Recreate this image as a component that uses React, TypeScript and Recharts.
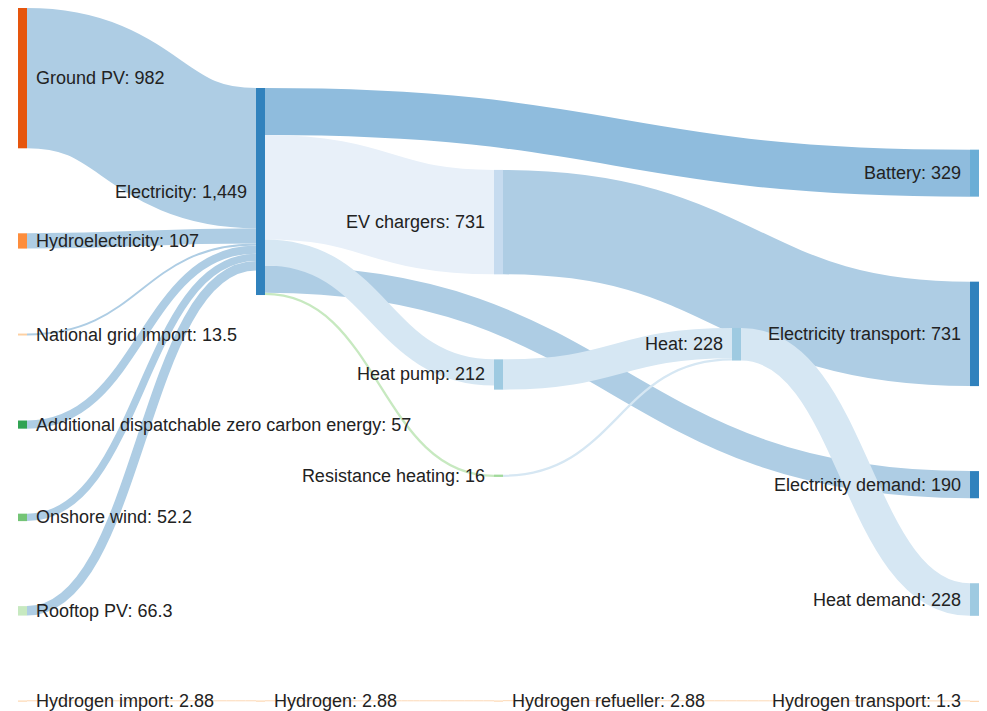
import React from 'react';
import { Sankey } from 'recharts';

const nodeNames = [
  'Ground PV',
  'Hydroelectricity',
  'National grid import',
  'Additional dispatchable zero carbon energy',
  'Onshore wind',
  'Rooftop PV',
  'Hydrogen import',
  'Electricity',
  'Hydrogen',
  'Battery',
  'EV chargers',
  'Heat pump',
  'Resistance heating',
  'Hydrogen refueller',
  'Electricity transport',
  'Electricity demand',
  'Heat',
  'Heat demand',
  'Hydrogen transport',
];

const linkSource = [0, 1, 2, 3, 4, 5, 6, 7, 7, 7, 7, 7, 10, 11, 12, 16, 8, 13];
const linkTarget = [7, 7, 7, 7, 7, 7, 8, 9, 10, 15, 11, 12, 14, 16, 16, 17, 13, 18];
const linkValue = [982, 107, 13.5, 57, 52.2, 66.3, 2.88, 329, 731, 190, 183, 16, 731, 212, 16, 228, 2.88, 1.3];

const NODE_COLORS: Record<string, string> = {
  'Ground PV': '#e6550d',
  Hydroelectricity: '#fd8d3c',
  'National grid import': '#fdd0a2',
  'Additional dispatchable zero carbon energy': '#31a354',
  'Onshore wind': '#74c476',
  'Rooftop PV': '#c7e9c0',
  'Hydrogen import': '#fdd0a2',
  Electricity: '#3182bd',
  Hydrogen: '#fdd0a2',
  Battery: '#6baed6',
  'EV chargers': '#c6dbef',
  'Heat pump': '#9ecae1',
  'Resistance heating': '#a1d99b',
  'Hydrogen refueller': '#fdd0a2',
  'Electricity transport': '#3182bd',
  'Electricity demand': '#3182bd',
  Heat: '#9ecae1',
  'Heat demand': '#9ecae1',
  'Hydrogen transport': '#fdd0a2',
};

const LINK_COLORS = [
  '#aecde4', '#aecde4', '#aecde4', '#aecde4', '#aecde4', '#aecde4',
  '#fdd9b5',
  '#8fbcdd', '#e8f0f9', '#aecde4', '#d6e7f3', '#c7e9c0',
  '#aecde4', '#d6e7f3', '#d6e7f3', '#d6e7f3',
  '#fdd9b5', '#fdd9b5',
];

const RIGHT_LABEL = new Set([
  'Ground PV', 'Hydroelectricity', 'National grid import',
  'Additional dispatchable zero carbon energy', 'Onshore wind', 'Rooftop PV',
  'Hydrogen import', 'Hydrogen', 'Hydrogen refueller',
]);

const data = {
  nodes: nodeNames.map((name) => ({ name })),
  links: linkValue.map((value, i) => ({ source: linkSource[i], target: linkTarget[i], value })),
};

const fmt = (v: number) => v.toLocaleString('en-US', { maximumFractionDigits: 2 });

function NodeShape(props: any) {
  const { x, y, width, height, payload } = props;
  const name = payload.name as string;
  const right = RIGHT_LABEL.has(name);
  return (
    <g>
      <rect x={x} y={y} width={width} height={Math.max(height, 1)} fill={NODE_COLORS[name]} />
      <text
        x={right ? x + width + 9 : x - 9}
        y={y + height / 2}
        textAnchor={right ? 'start' : 'end'}
        dominantBaseline="central"
        fontFamily="'Liberation Sans', Arial, sans-serif"
        fontSize={18}
        fill="#222"
      >
        {`${name}: ${fmt(payload.value)}`}
      </text>
    </g>
  );
}

function LinkShape(props: any) {
  const { sourceX, targetX, sourceY, targetY, sourceControlX, targetControlX, linkWidth, index } = props;
  return (
    <path
      d={`M${sourceX},${sourceY} C${sourceControlX},${sourceY} ${targetControlX},${targetY} ${targetX},${targetY}`}
      fill="none"
      stroke={LINK_COLORS[index] || '#aecde4'}
      strokeWidth={Math.max(linkWidth, 1)}
    />
  );
}

export default function App() {
  return (
    <div style={{ position: 'absolute', left: 0, top: 0, width: 987, height: 711, background: '#fff' }}>
      <Sankey
        width={987}
        height={711}
        data={data}
        margin={{ top: 8, right: 8, bottom: 10, left: 18 }}
        nodeWidth={9}
        nodePadding={85}
        sort={false}
        node={<NodeShape />}
        link={<LinkShape />}
      />
    </div>
  );
}
